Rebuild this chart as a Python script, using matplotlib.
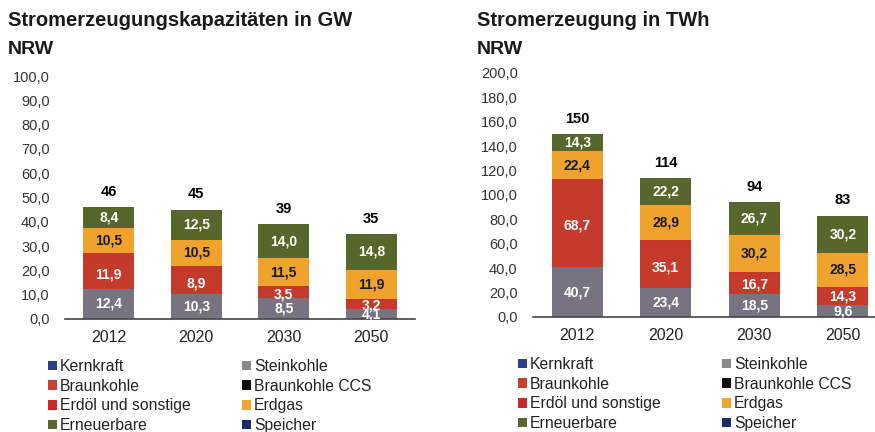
import numpy as np
from matplotlib import pyplot as plt
from matplotlib.patches import Patch

plt.rcParams['font.family'] = ['Liberation Sans', 'DejaVu Sans']

years = ['2012', '2020', '2030', '2050']

# Stromerzeugungskapazitaeten in GW
cap_stein = [12.4, 10.3, 8.5, 4.1]
cap_braun = [11.9, 8.9, 3.5, 3.2]
cap_oel = [2.8, 2.8, 1.5, 1.0]
cap_gas = [10.5, 10.5, 11.5, 11.9]
cap_ee = [8.4, 12.5, 14.0, 14.8]
cap_total = [46, 45, 39, 35]

# Stromerzeugung in TWh
gen_stein = [40.7, 23.4, 18.5, 9.6]
gen_braun = [68.7, 35.1, 16.7, 14.3]
gen_oel = [3.9, 4.4, 1.9, 0.4]
gen_gas = [22.4, 28.9, 30.2, 28.5]
gen_ee = [14.3, 22.2, 26.7, 30.2]
gen_total = [150, 114, 94, 83]

legend_names = ['Kernkraft', 'Braunkohle', 'Erdöl und sonstige', 'Erneuerbare',
                'Steinkohle', 'Braunkohle CCS', 'Erdgas', 'Speicher']
legend_colors = ['#2b3f8c', '#c8402e', '#cc2a2a', '#56662c',
                 '#8a8a8a', '#111111', '#f0a42c', '#1c2c66']

c_stein = '#777380'
c_braun = '#c43a2b'
c_oel = '#c4382b'
c_gas = '#efa22c'
c_ee = '#57672b'

W, H = 875, 432
fig = plt.figure(figsize=(W / 100, H / 100), dpi=100)


def px_axes(x0, x1, y_top, y_zero):
    return fig.add_axes([x0 / W, (H - y_zero) / H, (x1 - x0) / W, (y_zero - y_top) / H])


def fmt(v):
    return ('%.1f' % v).replace('.', ',')


def draw(ax, stein, braun, oel, gas, ee, total, ymax, step):
    x = np.arange(len(years))
    bottom = np.zeros(len(years))
    segs = [(stein, c_stein, 'white', True), (braun, c_braun, 'white', True),
            (oel, c_oel, 'white', False), (gas, c_gas, '#1a1a1a', True),
            (ee, c_ee, 'white', True)]
    for vals, col, tcol, lab in segs:
        vals = np.array(vals)
        ax.bar(x, vals, 0.58, bottom=bottom, color=col, edgecolor='none')
        if lab:
            for xi, b, v in zip(x, bottom, vals):
                ax.text(xi, b + v / 2, fmt(v), ha='center', va='center',
                        color=tcol, fontsize=10, fontweight='bold')
        bottom = bottom + vals
    for xi, t in zip(x, total):
        ax.annotate(str(t), (xi, t), xytext=(0, 6), textcoords='offset points',
                    ha='center', va='bottom', fontsize=10.5, fontweight='bold')
    ax.set_xlim(-0.5, len(years) - 0.5)
    ax.set_ylim(0, ymax)
    ax.set_yticks(np.arange(0, ymax + 0.1, step))
    ax.set_yticklabels([fmt(v) for v in np.arange(0, ymax + 0.1, step)])
    ax.set_xticks(x)
    ax.set_xticklabels(years)
    ax.tick_params(axis='y', length=0, pad=11, labelsize=10.5, labelcolor='#333333')
    ax.tick_params(axis='x', length=0, pad=8, labelsize=11.5, labelcolor='#222222')
    for s in ['top', 'right', 'left']:
        ax.spines[s].set_visible(False)
    ax.spines['bottom'].set_color('#444444')
    ax.spines['bottom'].set_linewidth(1.2)
    ax.set_facecolor('none')


def legend(x_col1, x_col2, y_top):
    handles = [Patch(facecolor=c, edgecolor='none') for c in legend_colors]
    for i, xc in enumerate([x_col1, x_col2]):
        lg = fig.legend(handles[4 * i:4 * i + 4], legend_names[4 * i:4 * i + 4],
                        loc='upper left', bbox_to_anchor=(xc / W, 1 - y_top / H),
                        frameon=False, fontsize=11.3, handlelength=0.55, handleheight=0.55,
                        handletextpad=0.2, labelspacing=0.3, borderpad=0, borderaxespad=0)
        for t in lg.get_texts():
            t.set_color('#222222')


ax1 = px_axes(65, 415, 76, 319)
draw(ax1, cap_stein, cap_braun, cap_oel, cap_gas, cap_ee, cap_total, 100, 10)
ax2 = px_axes(533, 887, 73, 317)
draw(ax2, gen_stein, gen_braun, gen_oel, gen_gas, gen_ee, gen_total, 200, 20)

fig.text(8 / W, 1 - 20 / H, 'Stromerzeugungskapazitäten in GW', fontsize=14.5,
         fontweight='bold', va='center', color='#1a1a1a')
fig.text(8 / W, 1 - 49 / H, 'NRW', fontsize=14, fontweight='bold', va='center', color='#1a1a1a')
fig.text(477 / W, 1 - 20 / H, 'Stromerzeugung in TWh', fontsize=14.5,
         fontweight='bold', va='center', color='#1a1a1a')
fig.text(477 / W, 1 - 50 / H, 'NRW', fontsize=14, fontweight='bold', va='center', color='#1a1a1a')

legend(48, 242, 359)
legend(518, 722, 357)

fig.savefig('out.png', dpi=100)
